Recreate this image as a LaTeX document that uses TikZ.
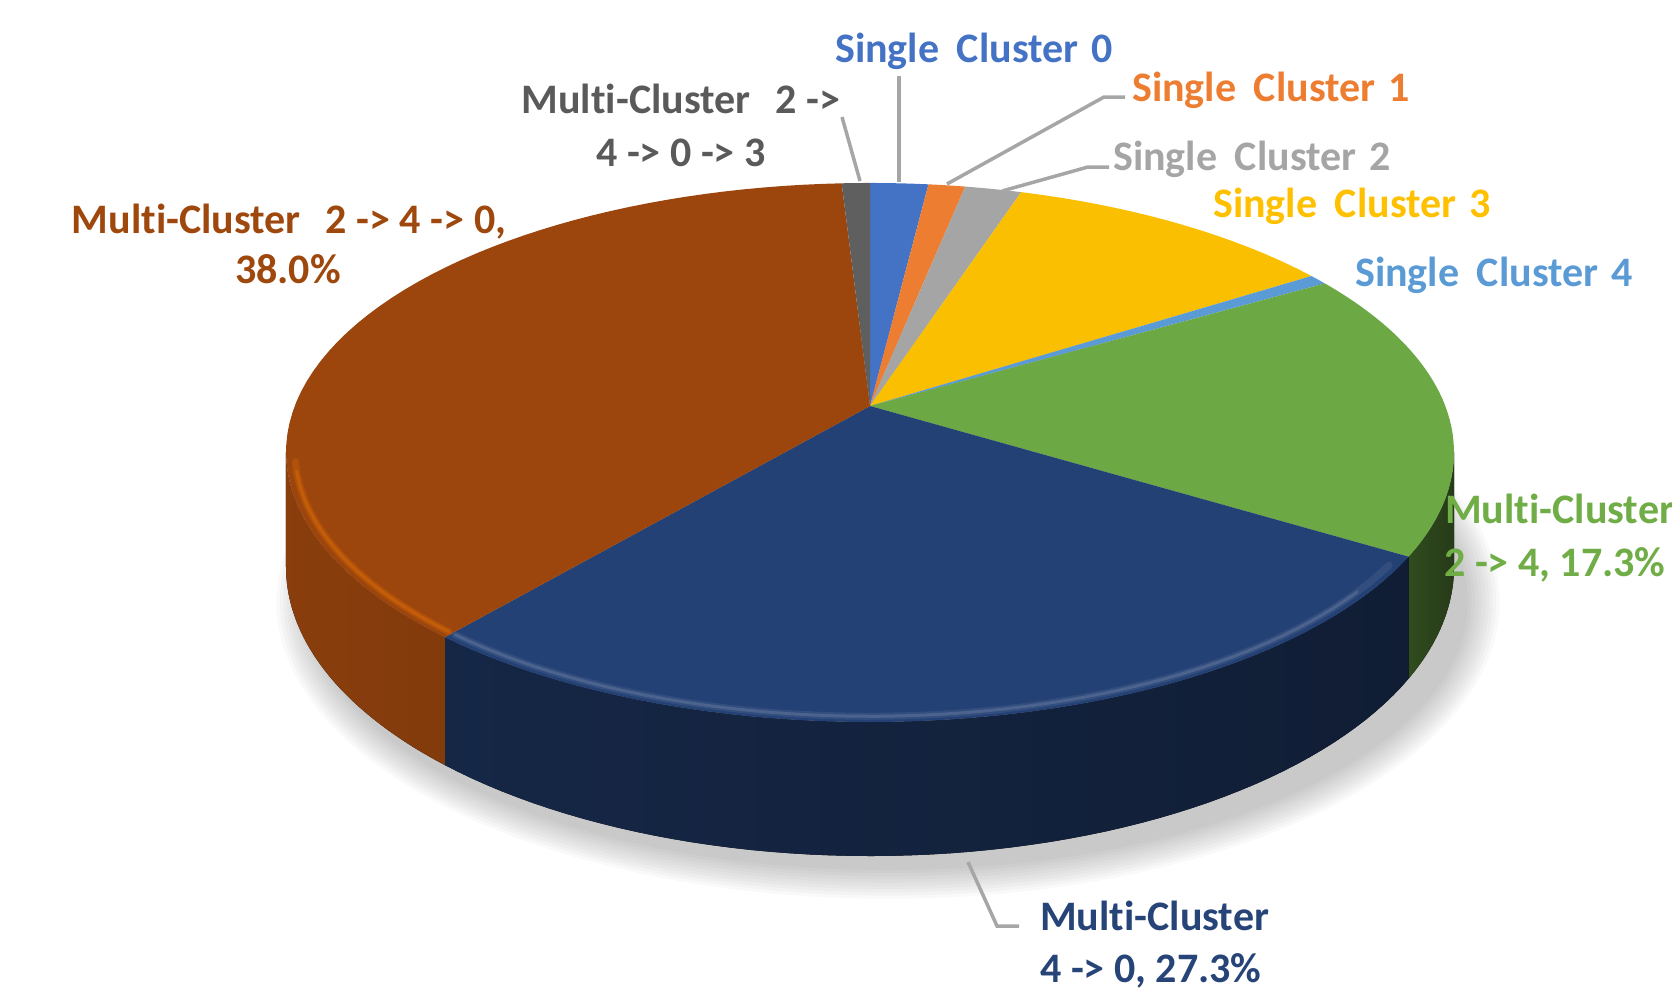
\documentclass[tikz,border=0pt]{standalone}
\usepackage{fontspec}
\setmainfont{Carlito}[Ligatures={NoCommon}]
\definecolor{cA}{HTML}{4472C4}
\definecolor{cB}{HTML}{ED7D31}
\definecolor{cC}{HTML}{A5A5A5}
\definecolor{cD}{HTML}{FABF00}
\definecolor{cE}{HTML}{5B9BD5}
\definecolor{cF}{HTML}{6CA844}
\definecolor{cG}{HTML}{244175}
\definecolor{cH}{HTML}{9C460E}
\definecolor{cI}{HTML}{5F5F5F}
\definecolor{labF}{HTML}{70AD47}
\definecolor{labG}{HTML}{264478}
\definecolor{labH}{HTML}{9E480E}
\definecolor{labI}{HTML}{5A5A5A}
\definecolor{labD}{HTML}{FFC000}
\definecolor{leadgray}{HTML}{A6A6A6}
\pgfmathdeclarefunction{pX}{2}{\pgfmathparse{870+575.3*#2*sin(#1)/(1+0.1725*#2*cos(#1))}}
\pgfmathdeclarefunction{pY}{2}{\pgfmathparse{406-261.5*#2*cos(#1)/(1+0.1725*#2*cos(#1))}}
\pgfmathdeclarefunction{pD}{1}{\pgfmathparse{110.9/(1+0.1725*cos(#1))}}
\newcommand\pietop[3]{\fill[#3] (870,406) -- plot[domain=#1:#2,samples=60,variable=\t] ({pX(\t,1)},{pY(\t,1)}) -- cycle;}
\newcommand\pieside[3]{\fill[#3] plot[domain=#1:#2,samples=60,variable=\t] ({pX(\t,1)},{pY(\t,1)}) -- plot[domain=#2:#1,samples=60,variable=\t] ({pX(\t,1)},{pY(\t,1)+pD(\t)}) -- cycle;}
\newcommand\piehl[3]{\draw[#3,line cap=round] plot[domain=#1:#2,samples=50,variable=\t] ({pX(\t,0.985)},{pY(\t,0.985)});}
\tikzset{
  lab/.style={font=\bfseries\fontsize{42}{51}\selectfont, inner sep=0pt},
  lead/.style={draw=leadgray, line width=3.5pt}
}
\begin{document}
\begin{tikzpicture}[x=1pt,y=-1pt]
\useasboundingbox (0,0) rectangle (1672,991);
% shadow
\foreach \i in {0,...,9}{
  \fill[black,opacity=0.022] (888,602) ellipse ({580+3.5*\i} and {268+3.2*\i});
}
% sides
\pieside{99.93}{121.61}{left color=black!55!cF, right color=black!65!cF}
\pieside{121.61}{219.89}{left color=black!40!cG, right color=black!10!cG!50!black}
\pieside{219.89}{260.07}{left color=black!12!cH, right color=black!16!cH}
% tops
\pietop{0}{6.84}{cA}
\pietop{6.84}{11.16}{cB}
\pietop{11.16}{17.82}{cC}
\pietop{17.82}{57.06}{cD}
\pietop{57.06}{59.33}{cE}
\pietop{59.33}{121.61}{cF}
\pietop{121.61}{219.89}{cG}
\pietop{219.89}{356.69}{cH}
\pietop{356.69}{360}{cI}
% rim highlights
\piehl{124}{219.5}{line width=7pt, color=white!20!cG, opacity=0.35}
\piehl{130}{219.5}{line width=3pt, color=white!25!cG, opacity=0.6}
\piehl{220.3}{258}{line width=7pt, color=orange!60!cH, opacity=0.35}
\piehl{220.3}{256}{line width=3pt, color=orange!55!cH, opacity=0.6}
% leader anchor points
\coordinate (pI) at (860,181);
\coordinate (qI) at (842,117);
\coordinate (pA) at (899,182);
\coordinate (qA) at (899,76);
\coordinate (pB) at (947,184);
\coordinate (qB) at (1104,97);
\coordinate (rB) at (1125,97);
\coordinate (pC) at (1002,191);
\coordinate (qC) at (1088,167);
\coordinate (rC) at (1109,167);
\coordinate (pG) at (968,862);
\coordinate (qG) at (997,926);
\coordinate (rG) at (1019,926);
\draw[lead] (pI) -- (qI);
\draw[lead] (pA) -- (qA);
\draw[lead] (pB) -- (qB) -- (rB);
\draw[lead] (pC) -- (qC) -- (rC);
\draw[lead] (pG) -- (qG) -- (rG);
% labels
\node[lab, text=cA, anchor=base west] (tA) at (835,62) {Single\hspace{0.42em}Cluster\hspace{0.3em}0};
\node[lab, text=cB, anchor=base west] (tB) at (1132,101) {Single\hspace{0.42em}Cluster\hspace{0.3em}1};
\node[lab, text=cC, anchor=base west] (tC) at (1113,170) {Single\hspace{0.42em}Cluster\hspace{0.3em}2};
\node[lab, text=labD, anchor=base west] (tD) at (1213,217) {Single\hspace{0.42em}Cluster\hspace{0.3em}3};
\node[lab, text=cE, anchor=base west] (tE) at (1355,286) {Single\hspace{0.42em}Cluster\hspace{0.3em}4};
\node[lab, text=labI, anchor=base] (tI1) at (681,113) {Multi-Cluster\hspace{0.6em}2 ->};
\node[lab, text=labI, anchor=base] (tI2) at (681,166) {4 -> 0 -> 3};
\node[lab, text=labH, anchor=base] (tH1) at (289,233) {Multi-Cluster\hspace{0.6em}2 -> 4 -> 0,};
\node[lab, text=labH, anchor=base] (tH2) at (288,283) {38.0\%};
\node[lab, text=labF, anchor=base west] (tF1) at (1445,523) {Multi-Cluster};
\node[lab, text=labF, anchor=base west] (tF2) at (1444,576) {2 -> 4, 17.3\%};
\node[lab, text=labG, anchor=base west] (tG1) at (1040,930) {Multi-Cluster};
\node[lab, text=labG, anchor=base west] (tG2) at (1040,982) {4 -> 0, 27.3\%};
\end{tikzpicture}
\end{document}
